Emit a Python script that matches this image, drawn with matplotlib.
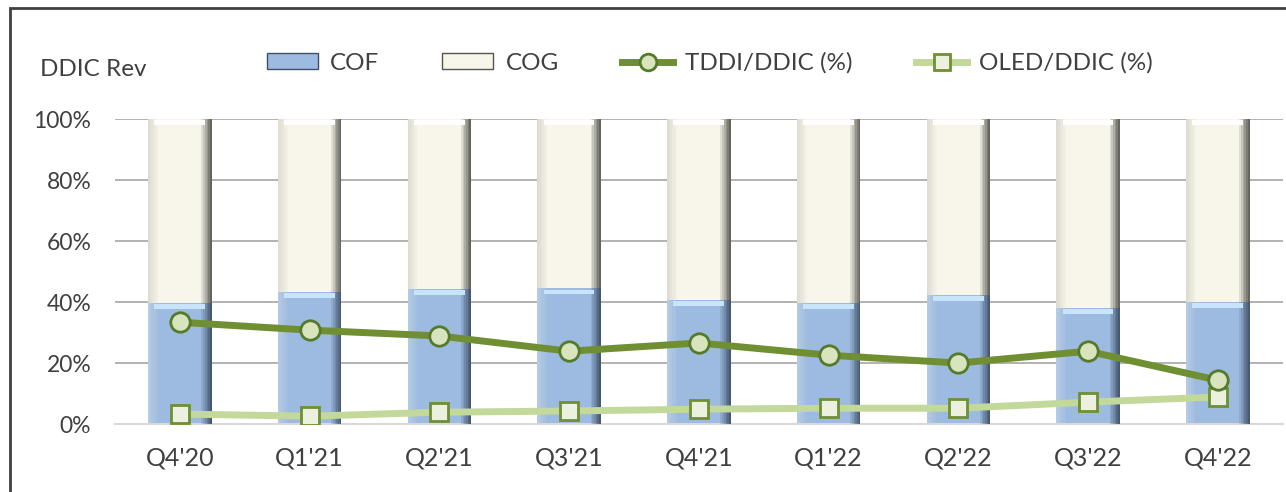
import matplotlib.pyplot as plt
from matplotlib.patches import Rectangle
from matplotlib.lines import Line2D
from matplotlib.ticker import PercentFormatter
import numpy as np

plt.rcParams['font.family'] = ['Lato', 'DejaVu Sans']

quarters = ["Q4'20", "Q1'21", "Q2'21", "Q3'21", "Q4'21", "Q1'22", "Q2'22", "Q3'22", "Q4'22"]
cof = [39.8, 43.3, 44.2, 44.5, 40.7, 39.7, 42.3, 38.0, 40.0]
cog = [100 - v for v in cof]
tddi = [33.4, 30.8, 28.9, 23.9, 26.6, 22.6, 20.0, 23.9, 14.4]
oled = [3.3, 2.6, 3.9, 4.3, 4.9, 5.2, 5.2, 7.2, 8.9]

text_color = '#404040'
fig = plt.figure(figsize=(12.86, 4.92), dpi=100)
ax = fig.add_axes([0.0894, 0.138, 0.908, 0.62])

x = np.arange(len(quarters))
w = 0.49


def bevel_bar(heights, bottom, face, dark, light, top_col):
    ax.bar(x, heights, width=w, bottom=bottom, color=face, linewidth=0, zorder=2)
    # side shading: a few thin strips fading towards the middle
    n = 6
    sw = w * 0.16 / n
    for k in range(n):
        a = 1 - k / n
        ax.bar(x - w / 2 + k * sw, heights, width=sw, bottom=bottom, align='edge',
               color=light, alpha=0.55 * a, linewidth=0, zorder=3)
        ax.bar(x + w / 2 - (k + 1) * sw, heights, width=sw, bottom=bottom, align='edge',
               color=dark, alpha=0.9 * a, linewidth=0, zorder=3)
    tops = [b + h for b, h in zip(bottom, heights)]
    ax.bar(x, [1.6] * len(x), width=w * 0.8, bottom=[t - 2.0 for t in tops],
           color=top_col, linewidth=0, zorder=3)


bevel_bar(cof, [0] * len(cof), '#9dbbe0', '#3e4f66', '#c9d8ea', '#c8e4fb')
bevel_bar(cog, cof, '#f8f6ea', '#55554f', '#c9c8bd', '#ffffff')

ax.plot(x, tddi, color='#6f8f32', linewidth=5, marker='o', markersize=14,
        markerfacecolor='#d7e4bd', markeredgecolor='#557a2a', markeredgewidth=2, zorder=5)
ax.plot(x, oled, color='#c3d89b', linewidth=5, marker='s', markersize=13,
        markerfacecolor='#ebf1de', markeredgecolor='#6f8f32', markeredgewidth=2, zorder=4)

ax.set_ylim(0, 100)
ax.set_xlim(-0.5, len(quarters) - 0.5)
ax.set_yticks([0, 20, 40, 60, 80, 100])
ax.yaxis.set_major_formatter(PercentFormatter(decimals=0))
ax.set_xticks(list(x))
ax.set_xticklabels(quarters)
ax.tick_params(length=0, colors=text_color)
ax.tick_params(axis='x', pad=16, labelsize=18)
ax.tick_params(axis='y', pad=17, labelsize=16.5)
ax.grid(axis='y', color='#a6a6a6', linewidth=1.2, zorder=0)
for s in ['top', 'right', 'left']:
    ax.spines[s].set_visible(False)
ax.spines['bottom'].set_color('#d9d9d9')
ax.spines['bottom'].set_linewidth(1.5)

fig.text(0.031, 0.858, 'DDIC Rev', fontsize=17.5, color=text_color, va='center')

handles = [
    Rectangle((0, 0), 1, 1, facecolor='#9dbbe0', edgecolor='#3e4f66'),
    Rectangle((0, 0), 1, 1, facecolor='#f8f6ea', edgecolor='#55554f'),
    Line2D([], [], color='#6f8f32', linewidth=5, marker='o', markersize=12,
           markerfacecolor='#d7e4bd', markeredgecolor='#557a2a', markeredgewidth=2),
    Line2D([], [], color='#c3d89b', linewidth=5, marker='s', markersize=11,
           markerfacecolor='#ebf1de', markeredgecolor='#6f8f32', markeredgewidth=2),
]
fig.legend(handles, ['COF', 'COG', 'TDDI/DDIC (%)', 'OLED/DDIC (%)'], loc='center',
           bbox_to_anchor=(0.552, 0.872), ncol=4, frameon=False, fontsize=17.5,
           labelcolor=text_color, handlelength=2.1, handleheight=0.6,
           columnspacing=2.6, handletextpad=0.5)

# outer chart frame (top and left visible)
fig.add_artist(Rectangle((0.008, -0.1), 1.1, 1.084, transform=fig.transFigure,
                         fill=False, edgecolor='#404040', linewidth=2))

fig.savefig('out.png', dpi=100)
